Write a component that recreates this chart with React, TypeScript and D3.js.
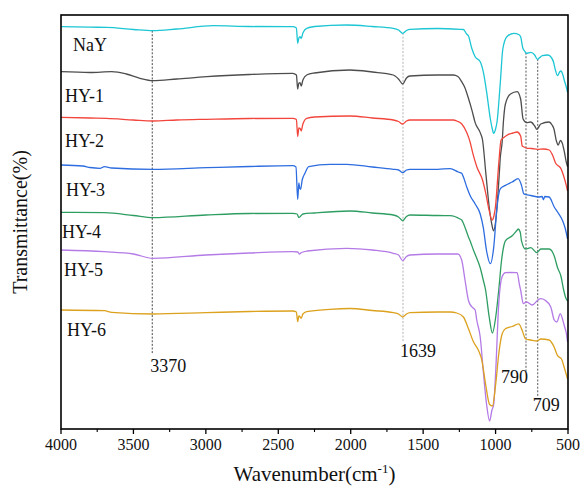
import React from "react";
import * as d3 from "d3";

type Pt = [number, number];

// FTIR spectra: [wavenumber cm-1, offset transmittance a.u.]
const NaY: Pt[] = [
  [4000, 403.3], [3800, 402.8], [3685, 402.7], [3500, 400.5], [3366, 399.3], [3200, 401],
  [2949, 404.3], [2700, 403.5], [2400, 403.3], [2375, 402], [2366, 386.7], [2358, 392],
  [2350, 393.3], [2342, 391.5], [2330, 397], [2304, 401.7], [2250, 403.5], [2028, 405],
  [1850, 403.5], [1706, 401.7], [1670, 400], [1641, 396.7], [1615, 399.5], [1591, 400.7],
  [1400, 401.5], [1246, 400.7], [1222, 400.5], [1200, 396], [1187, 394], [1165, 382],
  [1141, 373.3], [1106, 368.3], [1085, 358.3], [1062, 338.3], [1036, 311], [1024, 302],
  [1013, 296.7], [1000, 301], [990, 308], [967, 348], [950, 381], [922, 393.3],
  [874, 396.7], [840, 395.5], [827, 393.3], [812, 382], [800, 379], [786, 376.7],
  [757, 377.7], [730, 375], [711, 370.7], [695, 372.5], [677, 374.3], [640, 375],
  [619, 373.3], [600, 368], [590, 361.7], [572, 354.3], [558, 358], [549, 359],
  [535, 355], [526, 350], [510, 342], [503, 337.7],
];

const HY1: Pt[] = [
  [4000, 358.3], [3800, 357.5], [3650, 358.3], [3550, 356], [3455, 351.7], [3366, 349.3],
  [3200, 351], [2994, 353.3], [2700, 355.5], [2400, 356.7], [2375, 355], [2366, 341],
  [2358, 347], [2350, 347.3], [2342, 344], [2330, 350], [2304, 355], [2250, 357],
  [2005, 360], [1850, 358], [1706, 355], [1670, 351], [1641, 346], [1615, 352],
  [1591, 354], [1400, 355], [1292, 355], [1260, 353.5], [1234, 348.3], [1211, 342],
  [1188, 332], [1162, 319.2], [1141, 307.4], [1106, 297.4], [1090, 290], [1067, 256.4],
  [1044, 223], [1025, 205], [1014, 199.2], [1000, 208], [990, 223], [975, 255],
  [967, 273.2], [955, 287.3], [945, 310], [932, 326], [897, 336], [851, 338.4],
  [827, 331], [810, 311], [786, 307.4], [757, 308], [730, 304], [715, 300.7],
  [700, 303.5], [688, 306], [631, 308], [610, 305], [597, 301], [580, 289],
  [568, 285], [552, 289.5], [540, 287], [525, 278], [512, 268], [503, 263.3],
];

const HY2: Pt[] = [
  [4000, 312.7], [3800, 312], [3685, 311.7], [3500, 310], [3366, 309], [3200, 310],
  [2994, 310.7], [2700, 311.5], [2400, 311.7], [2375, 310.5], [2366, 293.5], [2358, 302],
  [2350, 301.7], [2342, 299], [2330, 306], [2304, 311.7], [2250, 313], [2005, 314],
  [1850, 312], [1706, 310], [1670, 308.5], [1641, 306], [1615, 309], [1591, 310],
  [1400, 310], [1292, 310], [1268, 309], [1233, 306], [1199, 297.4], [1176, 288],
  [1157, 276.6], [1129, 263], [1090, 250], [1067, 236.2], [1044, 219.4], [1024, 210],
  [1010, 215], [1001, 223], [978, 266.5], [962, 290], [945, 292.3], [911, 295.7],
  [880, 297], [851, 298], [827, 294], [816, 284], [810, 283.5], [781, 281.6],
  [750, 281.5], [711, 280.6], [670, 281], [630, 280], [607, 275], [584, 266.5],
  [565, 264], [549, 261.4], [530, 254], [515, 246.3], [503, 239],
];

const HY3: Pt[] = [
  [4000, 265], [3850, 264], [3800, 262.5], [3731, 261.7], [3700, 263.3], [3650, 262],
  [3366, 260.7], [2994, 262.3], [2700, 263.5], [2400, 264.3], [2378, 263], [2366, 230.7],
  [2358, 247], [2352, 241.7], [2346, 240.7], [2335, 250], [2316, 256.7], [2290, 263.3],
  [2143, 265.7], [2028, 265.7], [1850, 263], [1706, 260.7], [1670, 260], [1641, 257.3],
  [1615, 260], [1591, 260.7], [1400, 260.7], [1314, 261.4], [1257, 258], [1234, 256.7],
  [1222, 253], [1199, 243], [1176, 234.5], [1141, 226], [1106, 216], [1085, 202.6],
  [1062, 179], [1036, 166.3], [1013, 182.4], [990, 223], [967, 241.3], [932, 244.6],
  [885, 248], [844, 251.3], [821, 244.6], [805, 236.2], [757, 234.5], [700, 233],
  [678, 233.5], [670, 230.2], [660, 233.5], [630, 233], [595, 223], [572, 218],
  [537, 209.3], [520, 202], [503, 191],
];

const HY4: Pt[] = [
  [4000, 217.7], [3700, 217.3], [3500, 214.5], [3366, 212.3], [3000, 215], [2700, 216.5],
  [2400, 216.7], [2370, 216], [2358, 212.5], [2345, 214], [2330, 216], [2250, 217],
  [2005, 219], [1850, 217], [1706, 215], [1670, 213], [1641, 209.3], [1615, 213.5],
  [1591, 215], [1400, 214.5], [1314, 214.4], [1245, 211], [1234, 210], [1211, 202.6],
  [1188, 193.3], [1176, 189.2], [1153, 180], [1141, 175.7], [1106, 162.3], [1085, 150],
  [1069, 140], [1044, 113], [1022, 97], [999, 113], [978, 140], [960, 168],
  [940, 186], [932, 189.2], [885, 194.2], [850, 200], [844, 201], [830, 198],
  [821, 189.2], [793, 181], [757, 182.4], [715, 177.4], [688, 181], [630, 181],
  [595, 174], [572, 162.3], [549, 154], [530, 140], [515, 132], [503, 129],
];

const HY5: Pt[] = [
  [4000, 180], [3700, 178.3], [3500, 176], [3366, 171.7], [3000, 175], [2700, 177],
  [2400, 178.3], [2365, 178], [2355, 176], [2340, 177.5], [2300, 179], [2028, 181.7],
  [1850, 180], [1706, 176.7], [1670, 175], [1641, 169.3], [1615, 173.5], [1591, 175],
  [1400, 176], [1260, 176], [1234, 170], [1211, 150], [1188, 130], [1165, 123.3],
  [1141, 120], [1130, 110], [1106, 93], [1085, 59], [1062, 25.5], [1041, 9],
  [1025, 20], [1013, 25.5], [999, 59], [978, 126.4], [955, 153.3], [932, 157.3],
  [900, 157.5], [851, 157.3], [835, 145], [827, 140], [809, 126.4], [786, 128],
  [746, 125], [708, 130], [688, 131.4], [660, 130], [619, 123], [595, 110],
  [577, 108], [553, 116.3], [540, 112], [526, 104.5], [512, 97], [503, 88],
];

const HY6: Pt[] = [
  [4000, 120], [3700, 119.3], [3650, 117.7], [3366, 116], [3000, 117.3], [2700, 118.5],
  [2400, 119], [2375, 118], [2366, 108.3], [2358, 114], [2350, 113.3], [2342, 111.7],
  [2330, 116], [2304, 118.3], [2143, 120.7], [2005, 121.5], [1850, 119.5], [1706, 117.3],
  [1670, 116], [1641, 113], [1615, 116], [1591, 117.3], [1400, 118], [1314, 118],
  [1268, 117], [1222, 113], [1187, 101.2], [1152, 88], [1117, 79.3], [1094, 69.2],
  [1069, 46], [1041, 25.5], [1022, 24], [999, 46], [978, 76], [955, 96],
  [932, 101.2], [885, 103.5], [840, 106.2], [816, 99.5], [793, 91], [757, 90],
  [715, 89], [688, 91], [630, 90], [595, 82.7], [572, 74.3], [545, 71],
  [526, 62.5], [503, 51],
];

const sampleNames = ["NaY", "HY-1", "HY-2", "HY-3", "HY-4", "HY-5", "HY-6"];
const spectra = [NaY, HY1, HY2, HY3, HY4, HY5, HY6];
const markers = [3370, 1639, 790, 709];

// styling
const colors = ["#1cc6d4", "#4d4d4d", "#f2463c", "#2d6de0", "#2e9d62", "#b47ae6", "#dca11d"];
const labelPos = [
  [73, 51], [65, 102], [65, 147], [66, 196], [62, 238], [64, 276], [67, 336],
];
// marker line bottom, label x offset, label baseline, anchor, line colour
const markerStyle: [number, number, number, string, string][] = [
  [354, -2, 372, "start", "#333"],
  [342, -3, 357, "start", "#aaa"],
  [373, 2, 383, "end", "#444"],
  [397, -5, 411, "start", "#444"],
];

const W = 580;
const H = 488;
const left = 61, right = 568, top = 15, bottom = 429;
const serif = { fontFamily: '"Liberation Serif", "Times New Roman", Tinos, "DejaVu Serif", serif' };

export default function App() {
  const x = d3.scaleLinear().domain([4000, 500]).range([left, right]);
  const y = d3.scaleLinear().domain([0, 415]).range([430, 15]);
  const line = d3
    .line<Pt>()
    .x((d) => x(d[0]))
    .y((d) => y(d[1]))
    .curve(d3.curveMonotoneX);

  // NaY value at a given wavenumber (where the dashed guides start)
  const nayAt = (w: number) => {
    const i = NaY.findIndex((d) => d[0] <= w);
    if (i <= 0) return NaY[0][1];
    const a = NaY[i - 1], b = NaY[i];
    const t = (a[0] - w) / (a[0] - b[0]);
    return a[1] * (1 - t) + b[1] * t;
  };

  const major = x.ticks(7);
  const minor = d3.range(750, 4000, 500);

  return (
    <svg width={W} height={H} style={{ position: "absolute", left: 0, top: 0, background: "#fff" }}>
      {markers.map((m, i) => {
        const [yb, dx, ty, anchor, col] = markerStyle[i];
        return (
          <g key={m}>
            <line x1={x(m)} x2={x(m)} y1={y(nayAt(m))} y2={yb} stroke={col} strokeWidth={0.9} strokeDasharray="2,1.6" />
            <text x={x(m) + dx} y={ty} textAnchor={anchor} style={serif} fontSize={18} fill="#111">
              {m}
            </text>
          </g>
        );
      })}
      {spectra.map((s, i) => (
        <path key={sampleNames[i]} d={line(s) || ""} fill="none" stroke={colors[i]} strokeWidth={1.3} />
      ))}
      {sampleNames.map((n, i) => (
        <text key={n} x={labelPos[i][0]} y={labelPos[i][1]} style={serif} fontSize={18} fill="#111">
          {n}
        </text>
      ))}
      <rect x={left} y={top} width={right - left} height={bottom - top} fill="none" stroke="#000" strokeWidth={1.6} />
      {major.map((t) => (
        <g key={t}>
          <line x1={x(t)} x2={x(t)} y1={bottom} y2={bottom + 5} stroke="#000" strokeWidth={1.3} />
          <text x={x(t)} y={bottom + 21} textAnchor="middle" style={serif} fontSize={16} fill="#111">
            {t}
          </text>
        </g>
      ))}
      {minor.map((t) => (
        <line key={t} x1={x(t)} x2={x(t)} y1={bottom} y2={bottom + 3} stroke="#000" strokeWidth={1.1} />
      ))}
      <text x={(left + right) / 2} y={481} textAnchor="middle" style={serif} fontSize={21} fill="#111">
        Wavenumber(cm
        <tspan fontSize={13} dy={-8}>-1</tspan>
        <tspan dy={8}>)</tspan>
      </text>
      <text
        transform={`translate(27,${(top + bottom) / 2}) rotate(-90)`}
        textAnchor="middle"
        style={serif}
        fontSize={20}
        fill="#111"
      >
        Transmittance(%)
      </text>
    </svg>
  );
}
